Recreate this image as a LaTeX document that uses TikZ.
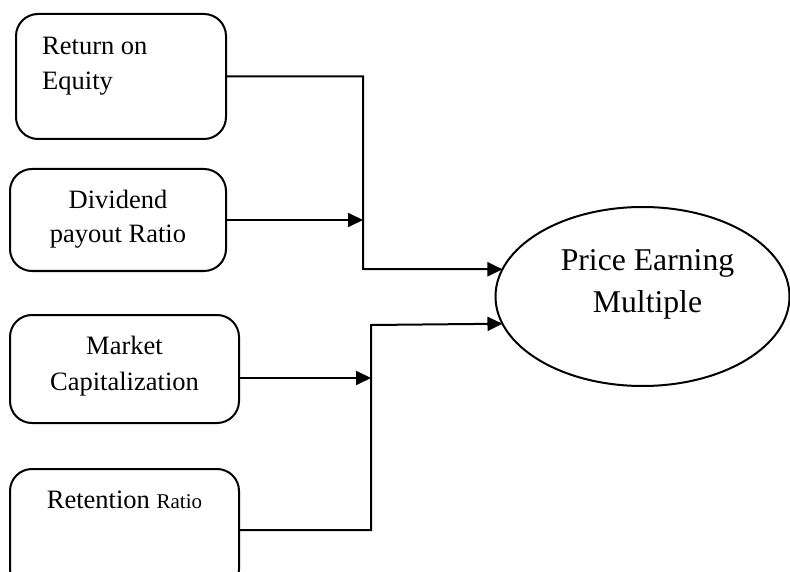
\documentclass[tikz,border=0pt]{standalone}
\usepackage{fontspec}
\setmainfont{Liberation Serif}
\usetikzlibrary{arrows.meta,shapes.geometric}
\tikzset{
  box/.style={draw, line width=2pt, rounded corners=22pt, inner sep=0pt, outer sep=0pt},
  oval/.style={draw, ellipse, line width=2pt, inner sep=0pt, outer sep=0pt},
  lbl/.style={anchor=base, inner sep=0pt, font=\fontsize{26.5}{35}\selectfont},
  biglbl/.style={anchor=base, inner sep=0pt, font=\fontsize{31.7}{41}\selectfont},
  conn/.style={line width=2pt},
  arr/.style={conn, -{Triangle[length=15pt,width=14pt]}},
}
\begin{document}
\begin{tikzpicture}[x=1pt,y=-1pt]
\useasboundingbox (0,0) rectangle (790,572);
\clip (0,0) rectangle (790,572);
% boxes
\node[box, minimum width=210pt, minimum height=125pt] (roe) at (121,76.5) {};
\node[box, minimum width=216pt, minimum height=102pt] (dpr) at (118,220) {};
\node[box, minimum width=229pt, minimum height=108pt] (mc) at (124.5,369) {};
\node[box, minimum width=229pt, minimum height=122pt] (rr) at (124.5,530) {};
\node[oval, minimum width=294pt, minimum height=179pt] (pe) at (642.5,296.5) {};
% texts
\node[lbl, anchor=base west] (t1a) at (42,55) {Return on};
\node[lbl, anchor=base west] (t1b) at (42,90) {Equity};
\node[lbl] (t2a) at (118,209) {Dividend};
\node[lbl] (t2b) at (118,243) {payout Ratio};
\node[lbl] (t3a) at (124.5,354) {Market};
\node[lbl] (t3b) at (124.5,390) {Capitalization};
\node[lbl] (t4) at (124.5,508) {Retention {\fontsize{21}{25}\selectfont Ratio}};
\node[biglbl] (t5a) at (647.5,271) {Price Earning};
\node[biglbl] (t5b) at (647.5,312) {Multiple};
% junctions
\coordinate (j1) at (363,269);
\coordinate (j2) at (371,325);
% connectors
\draw[arr] (roe.east) -| (j1) -- (pe.169);
\draw[arr] (dpr.east) -- (dpr.east -| j1);
\draw[arr] ([yshift=-9pt]mc.east) -- ([yshift=-9pt]mc.east -| j2);
\draw[arr] (rr.east) -| (j2) -- (pe.191.3);
\end{tikzpicture}
\end{document}
